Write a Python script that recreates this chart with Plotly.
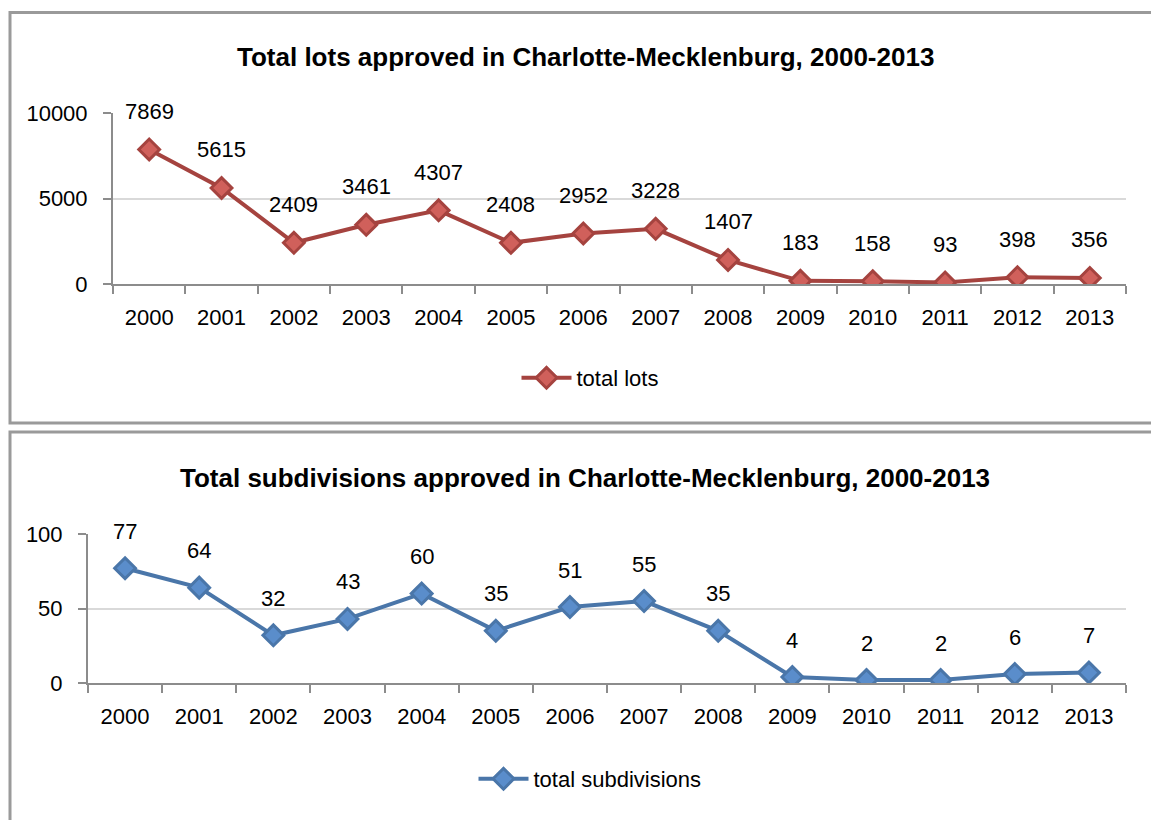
import plotly.graph_objects as go

# Approvals in Charlotte-Mecklenburg by year
years = ["2000", "2001", "2002", "2003", "2004", "2005", "2006",
         "2007", "2008", "2009", "2010", "2011", "2012", "2013"]
total_lots = [7869, 5615, 2409, 3461, 4307, 2408, 2952, 3228, 1407, 183, 158, 93, 398, 356]
total_subdivisions = [77, 64, 32, 43, 60, 35, 51, 55, 35, 4, 2, 2, 6, 7]

lots_ticks = [0, 5000, 10000]
subdiv_ticks = [0, 50, 100]

W, H = 1151, 820
FONT = "Liberation Sans Narrow, Arial Narrow, Liberation Sans, Arial, sans-serif"
RED_LINE, RED_FILL = "#A5433F", "#D0605B"
BLUE_LINE, BLUE_FILL = "#4A76A9", "#5A8DCB"
AXIS_COLOR = "#8c8c8c"
GRID_COLOR = "#d9d9d9"
BORDER = "#9a9a9a"
TXT = 22


def px_x(p):
    return p / W


def px_y(p):
    return 1 - p / H


fig = go.Figure()

fig.add_trace(go.Scatter(
    x=years, y=total_lots, name="total lots", mode="lines+markers",
    line=dict(color=RED_LINE, width=4),
    marker=dict(symbol="diamond", size=16, color=RED_FILL,
                line=dict(color=RED_LINE, width=3)),
    xaxis="x", yaxis="y", legend="legend", showlegend=True,
))
fig.add_trace(go.Scatter(
    x=years, y=total_subdivisions, name="total subdivisions", mode="lines+markers",
    line=dict(color=BLUE_LINE, width=4),
    marker=dict(symbol="diamond", size=16, color=BLUE_FILL,
                line=dict(color=BLUE_LINE, width=3)),
    xaxis="x2", yaxis="y2", legend="legend2", showlegend=True,
))

# value labels above each point (x given as category index)
annotations = []
for i, yv in enumerate(total_lots):
    annotations.append(dict(x=i, y=yv, xref="x", yref="y", text=str(yv),
                            showarrow=False, yshift=38, yanchor="middle",
                            font=dict(size=TXT, color="black", family=FONT)))
for i, yv in enumerate(total_subdivisions):
    annotations.append(dict(x=i, y=yv, xref="x2", yref="y2", text=str(yv),
                            showarrow=False, yshift=37, yanchor="middle",
                            font=dict(size=TXT, color="black", family=FONT)))

# panel titles
annotations.append(dict(x=px_x(585), y=px_y(57), xref="paper", yref="paper",
                        text="<b>Total lots approved in Charlotte-Mecklenburg, 2000-2013</b>",
                        showarrow=False, xanchor="center", yanchor="middle",
                        font=dict(size=26, color="black", family=FONT)))
annotations.append(dict(x=px_x(585), y=px_y(478), xref="paper", yref="paper",
                        text="<b>Total subdivisions approved in Charlotte-Mecklenburg, 2000-2013</b>",
                        showarrow=False, xanchor="center", yanchor="middle",
                        font=dict(size=26, color="black", family=FONT)))

xaxis_common = dict(
    type="category", range=[-0.5, 13.5], showline=True, linecolor=AXIS_COLOR,
    linewidth=2, ticks="outside", tickson="boundaries", ticklen=8,
    tickcolor=AXIS_COLOR, tickwidth=2, showgrid=False, zeroline=False,
    automargin=False,
    tickfont=dict(size=TXT, color="black", family=FONT), ticklabelstandoff=13,
)
yaxis_common = dict(
    showline=True, linecolor=AXIS_COLOR, linewidth=2, ticks="outside",
    ticklen=8, tickcolor=AXIS_COLOR, tickwidth=2, showgrid=True,
    gridcolor=GRID_COLOR, gridwidth=2, zeroline=False, automargin=False,
    tickfont=dict(size=TXT, color="black", family=FONT), ticklabelstandoff=11,
)

fig.update_layout(
    width=W, height=H, margin=dict(l=0, r=0, t=0, b=0, autoexpand=False),
    paper_bgcolor="white", plot_bgcolor="white", showlegend=True,
    font=dict(family=FONT, color="black"),
    xaxis=dict(xaxis_common, domain=[px_x(113), px_x(1126)], anchor="y"),
    yaxis=dict(yaxis_common, domain=[px_y(284), px_y(113)], anchor="x",
               range=[0, 10000], tickvals=lots_ticks,
               ticktext=[str(v) for v in lots_ticks]),
    xaxis2=dict(xaxis_common, domain=[px_x(88), px_x(1126)], anchor="y2"),
    yaxis2=dict(yaxis_common, domain=[px_y(683), px_y(534)], anchor="x2",
                range=[0, 100], tickvals=subdiv_ticks,
                ticktext=[str(v) for v in subdiv_ticks]),
    legend=dict(x=px_x(590), y=px_y(378), xanchor="center", yanchor="middle",
                orientation="h", font=dict(size=TXT, family=FONT),
                bgcolor="rgba(0,0,0,0)", itemwidth=50, visible=True),
    legend2=dict(x=px_x(590), y=px_y(779), xanchor="center", yanchor="middle",
                 orientation="h", font=dict(size=TXT, family=FONT),
                 bgcolor="rgba(0,0,0,0)", itemwidth=50, visible=True),
    annotations=annotations,
    shapes=[
        dict(type="rect", xref="paper", yref="paper",
             x0=px_x(10), x1=px_x(1160), y0=px_y(423), y1=px_y(12.5),
             line=dict(color=BORDER, width=3), layer="below"),
        dict(type="rect", xref="paper", yref="paper",
             x0=px_x(10), x1=px_x(1160), y0=px_y(830), y1=px_y(432),
             line=dict(color=BORDER, width=3), layer="below"),
    ],
)

fig.write_html("out.html")
